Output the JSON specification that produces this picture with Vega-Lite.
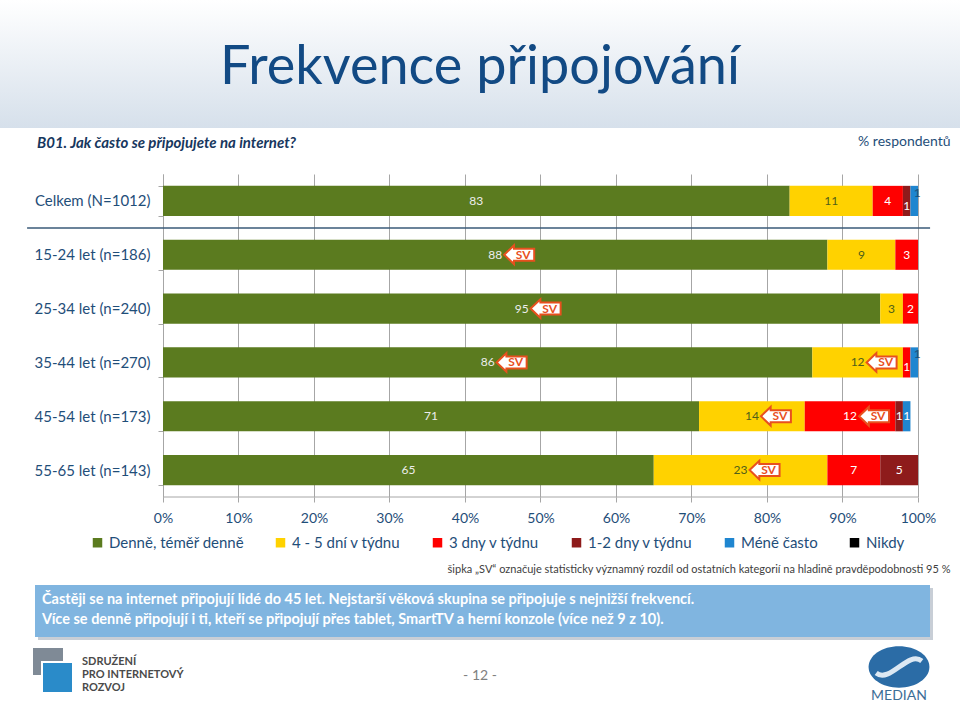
{
  "$schema": "https://vega.github.io/schema/vega-lite/v6.json",
  "background": "white",
  "padding": 0,
  "spacing": 6,
  "config": {"view": {"stroke": null}, "font": "Lato"},
  "vconcat": [
    {
      "width": 960,
      "height": 128,
      "data": {"values": [{"t": "Frekvence připojování"}]},
      "layer": [
        {
          "mark": {"type": "rect", "color": {"gradient": "linear", "x1": 0, "y1": 0, "x2": 0, "y2": 1, "stops": [{"offset": 0, "color": "#FFFFFF"}, {"offset": 1, "color": "#D6E0EB"}]}},
          "encoding": {"x": {"value": 0}, "x2": {"value": "width"}, "y": {"value": 0}, "y2": {"value": "height"}}
        },
        {
          "mark": {"type": "text", "fontSize": 54, "color": "#124A84", "dy": 4},
          "encoding": {"text": {"field": "t"}}
        }
      ]
    },
    {
      "width": 960,
      "height": 323,
      "title": {"text": "B01. Jak často se připojujete na internet?", "anchor": "start", "frame": "group", "dx": 37, "fontSize": 15, "fontStyle": "italic", "fontWeight": "bold", "color": "#17375E", "offset": -17},
      "layer": [
        {
          "data": {"values": [
            {"g": "Celkem (N=1012)", "c": "Denně, téměř denně", "o": 1, "v": 83},
            {"g": "Celkem (N=1012)", "c": "4 - 5 dní v týdnu", "o": 2, "v": 11},
            {"g": "Celkem (N=1012)", "c": "3 dny v týdnu", "o": 3, "v": 4},
            {"g": "Celkem (N=1012)", "c": "1-2 dny v týdnu", "o": 4, "v": 1, "lab": "lower"},
            {"g": "Celkem (N=1012)", "c": "Méně často", "o": 5, "v": 1, "lab": "upper"},
            {"g": "15-24 let (n=186)", "c": "Denně, téměř denně", "o": 1, "v": 88, "sv": true},
            {"g": "15-24 let (n=186)", "c": "4 - 5 dní v týdnu", "o": 2, "v": 9},
            {"g": "15-24 let (n=186)", "c": "3 dny v týdnu", "o": 3, "v": 3},
            {"g": "25-34 let (n=240)", "c": "Denně, téměř denně", "o": 1, "v": 95, "sv": true},
            {"g": "25-34 let (n=240)", "c": "4 - 5 dní v týdnu", "o": 2, "v": 3},
            {"g": "25-34 let (n=240)", "c": "3 dny v týdnu", "o": 3, "v": 2},
            {"g": "35-44 let (n=270)", "c": "Denně, téměř denně", "o": 1, "v": 86, "sv": true},
            {"g": "35-44 let (n=270)", "c": "4 - 5 dní v týdnu", "o": 2, "v": 12, "sv": true},
            {"g": "35-44 let (n=270)", "c": "3 dny v týdnu", "o": 3, "v": 1, "lab": "lower"},
            {"g": "35-44 let (n=270)", "c": "Méně často", "o": 5, "v": 1, "lab": "upper"},
            {"g": "45-54 let (n=173)", "c": "Denně, téměř denně", "o": 1, "v": 71},
            {"g": "45-54 let (n=173)", "c": "4 - 5 dní v týdnu", "o": 2, "v": 14, "sv": true},
            {"g": "45-54 let (n=173)", "c": "3 dny v týdnu", "o": 3, "v": 12, "sv": true},
            {"g": "45-54 let (n=173)", "c": "1-2 dny v týdnu", "o": 4, "v": 1},
            {"g": "45-54 let (n=173)", "c": "Méně často", "o": 5, "v": 1},
            {"g": "55-65 let (n=143)", "c": "Denně, téměř denně", "o": 1, "v": 65},
            {"g": "55-65 let (n=143)", "c": "4 - 5 dní v týdnu", "o": 2, "v": 23, "sv": true},
            {"g": "55-65 let (n=143)", "c": "3 dny v týdnu", "o": 3, "v": 7},
            {"g": "55-65 let (n=143)", "c": "1-2 dny v týdnu", "o": 4, "v": 5}
          ]},
          "transform": [
            {"stack": "v", "groupby": ["g"], "sort": [{"field": "o"}], "as": ["v0", "v1"]},
            {"calculate": "(datum.v0 + datum.v1) / 2", "as": "vm"}
          ],
          "encoding": {
            "y": {"field": "g", "type": "nominal", "sort": null, "title": null,
              "scale": {"paddingInner": 0.44, "paddingOuter": 0.22},
              "axis": {"offset": -163, "labelFontSize": 15, "labelColor": "#1F4E79", "labelPadding": 8, "tickBand": "extent", "tickSize": 5, "tickColor": "#A6A6A6", "domainColor": "#A6A6A6"}}
          },
          "layer": [
            {
              "mark": {"type": "bar"},
              "encoding": {
                "x": {"field": "v0", "type": "quantitative", "scale": {"domain": [-21.589, 105.563], "nice": false, "zero": false},
                  "axis": {"values": [0, 10, 20, 30, 40, 50, 60, 70, 80, 90, 100], "labelExpr": "datum.value + '%'", "grid": true, "gridColor": "#A6A6A6", "domain": false, "tickSize": 5, "tickColor": "#A6A6A6", "labelFontSize": 14, "labelColor": "#1F4E79", "labelPadding": 9,
                    "title": "šipka „SV“ označuje statisticky významný rozdíl od ostatních kategorií  na hladině pravděpodobnosti 95 %", "titleX": 950, "titleAlign": "right", "titleAnchor": null, "titlePadding": 38, "titleFontSize": 11, "titleFontWeight": "normal", "titleColor": "#404040"}},
                "x2": {"field": "v1"},
                "color": {"field": "c", "type": "nominal",
                  "scale": {"domain": ["Denně, téměř denně", "4 - 5 dní v týdnu", "3 dny v týdnu", "1-2 dny v týdnu", "Méně často", "Nikdy"],
                    "range": ["#5B7B1F", "#FFD200", "#FF0000", "#8E1B1B", "#1F86D0", "#000000"]},
                  "legend": {"orient": "none", "legendX": 90, "legendY": 535, "direction": "horizontal", "title": null, "symbolType": "square", "symbolSize": 90, "symbolStrokeWidth": 0, "labelFontSize": 15, "labelColor": "#1F4E79", "columnPadding": 29, "labelOffset": 4}}
              }
            },
            {
              "transform": [{"filter": "datum.lab == null"}],
              "mark": {"type": "text", "fontSize": 12},
              "encoding": {
                "x": {"field": "vm", "type": "quantitative"},
                "text": {"field": "v"},
                "color": {"condition": [{"test": "datum.o === 2", "value": "#4F5F1A"}, {"test": "datum.o === 1", "value": "#EDEDED"}], "value": "#FFFFFF"}
              }
            },
            {
              "transform": [{"filter": "datum.lab === 'upper'"}],
              "mark": {"type": "text", "fontSize": 12, "dy": -8, "dx": 3, "color": "#1F4E79"},
              "encoding": {
                "x": {"field": "vm", "type": "quantitative"},
                "text": {"field": "v"}
              }
            },
            {
              "transform": [{"filter": "datum.lab === 'lower'"}],
              "mark": {"type": "text", "fontSize": 12, "dy": 5, "color": "#FFFFFF"},
              "encoding": {
                "x": {"field": "vm", "type": "quantitative"},
                "text": {"field": "v"}
              }
            },
            {
              "transform": [{"filter": "datum.sv === true"}],
              "mark": {"type": "point", "shape": "M -1 0 L -0.35 -0.62 L -0.35 -0.4 L 1 -0.4 L 1 0.4 L -0.35 0.4 L -0.35 0.62 Z", "size": 900, "filled": true, "fill": "#FFFFFF", "stroke": "#E8501E", "strokeWidth": 2, "opacity": 1, "xOffset": 24},
              "encoding": {
                "x": {"field": "vm", "type": "quantitative"}
              }
            },
            {
              "transform": [{"filter": "datum.sv === true"}],
              "mark": {"type": "text", "text": "SV", "dx": 28, "fontSize": 12, "fontWeight": "bold", "color": "#E8501E"},
              "encoding": {
                "x": {"field": "vm", "type": "quantitative"}
              }
            }
          ]
        },
        {
          "data": {"values": [{"k": "sep"}]},
          "mark": {"type": "rule", "color": "#3A5A78", "strokeWidth": 1.5},
          "encoding": {
            "x": {"datum": -18, "type": "quantitative",
              "axis": {"orient": "top", "title": "% respondentů", "labels": false, "ticks": false, "domain": false, "grid": false, "titleX": 950, "titleAlign": "right", "titleAnchor": null, "titlePadding": 26, "titleFontSize": 14, "titleFontWeight": "normal", "titleColor": "#1F4E79"}},
            "x2": {"datum": 101.6},
            "y": {"datum": "Celkem (N=1012)", "type": "nominal", "bandPosition": 1.4}
          }
        },
        {
          "data": {"values": [{"k": "axis"}]},
          "mark": {"type": "rule", "color": "#A6A6A6", "strokeWidth": 1},
          "encoding": {
            "x": {"datum": 0, "type": "quantitative", "axis": null},
            "x2": {"datum": 100},
            "y": {"value": "height"}
          }
        }
      ],
      "resolve": {"axis": {"x": "independent"}}
    },
    {
      "width": 960,
      "height": 56,
      "data": {"values": [
        {"l": 1, "t": "Častěji se na internet připojují lidé do 45 let. Nejstarší věková skupina se připojuje s nejnižší frekvencí."},
        {"l": 2, "t": "Více se denně připojují i ti, kteří se připojují přes tablet, SmartTV a herní konzole (více než 9 z 10)."}
      ]},
      "layer": [
        {
          "transform": [{"filter": "datum.l === 1"}],
          "mark": {"type": "rect", "color": "#C8CED6"},
          "encoding": {
            "x": {"datum": 38, "type": "quantitative", "scale": {"domain": [0, 960], "nice": false, "zero": false}, "axis": null},
            "x2": {"datum": 933},
            "y": {"datum": 8, "type": "quantitative", "scale": {"domain": [0, 56], "reverse": true, "nice": false, "zero": false}, "axis": null},
            "y2": {"datum": 60}
          }
        },
        {
          "transform": [{"filter": "datum.l === 1"}],
          "mark": {"type": "rect", "color": "#80B5E0"},
          "encoding": {
            "x": {"datum": 35, "type": "quantitative"},
            "x2": {"datum": 930},
            "y": {"datum": 5, "type": "quantitative"},
            "y2": {"datum": 57}
          }
        },
        {
          "transform": [{"filter": "datum.l === 1"}],
          "mark": {"type": "text", "align": "left", "fontSize": 14.5, "fontWeight": "bold", "color": "#FFFFFF"},
          "encoding": {
            "x": {"datum": 42, "type": "quantitative"},
            "y": {"datum": 20, "type": "quantitative"},
            "text": {"field": "t"}
          }
        },
        {
          "transform": [{"filter": "datum.l === 2"}],
          "mark": {"type": "text", "align": "left", "fontSize": 14.5, "fontWeight": "bold", "color": "#FFFFFF"},
          "encoding": {
            "x": {"datum": 42, "type": "quantitative"},
            "y": {"datum": 40, "type": "quantitative"},
            "text": {"field": "t"}
          }
        }
      ]
    },
    {
      "width": 960,
      "height": 57,
      "data": {"values": [{"k": 1}]},
      "layer": [
        {
          "mark": {"type": "rect", "color": "#7F8A96"},
          "encoding": {
            "x": {"datum": 33, "type": "quantitative", "scale": {"domain": [0, 960], "nice": false, "zero": false}, "axis": null},
            "x2": {"datum": 63},
            "y": {"datum": -1, "type": "quantitative", "scale": {"domain": [0, 57], "reverse": true, "nice": false, "zero": false}, "axis": null},
            "y2": {"datum": 26}
          }
        },
        {
          "mark": {"type": "rect", "color": "#2A8BC9", "stroke": "#FFFFFF", "strokeWidth": 2},
          "encoding": {
            "x": {"datum": 42, "type": "quantitative"},
            "x2": {"datum": 73},
            "y": {"datum": 13, "type": "quantitative"},
            "y2": {"datum": 44}
          }
        },
        {
          "mark": {"type": "text", "text": "SDRUŽENÍ", "align": "left", "fontSize": 11, "fontWeight": "bold", "color": "#4A4A4A"},
          "encoding": {"x": {"datum": 82, "type": "quantitative"}, "y": {"datum": 13, "type": "quantitative"}}
        },
        {
          "mark": {"type": "text", "text": "PRO INTERNETOVÝ", "align": "left", "fontSize": 11, "fontWeight": "bold", "color": "#4A4A4A"},
          "encoding": {"x": {"datum": 82, "type": "quantitative"}, "y": {"datum": 26, "type": "quantitative"}}
        },
        {
          "mark": {"type": "text", "text": "ROZVOJ", "align": "left", "fontSize": 11, "fontWeight": "bold", "color": "#4A4A4A"},
          "encoding": {"x": {"datum": 82, "type": "quantitative"}, "y": {"datum": 39, "type": "quantitative"}}
        },
        {
          "mark": {"type": "text", "text": "- 12 -", "fontSize": 14, "color": "#808080"},
          "encoding": {"x": {"datum": 480, "type": "quantitative"}, "y": {"datum": 27, "type": "quantitative"}}
        },
        {
          "mark": {"type": "point", "shape": "M -1 0 A 1 0.68 0 1 0 1 0 A 1 0.68 0 1 0 -1 0 Z", "size": 3700, "filled": true, "color": "#2B6CA6", "opacity": 1},
          "encoding": {"x": {"datum": 899, "type": "quantitative"}, "y": {"datum": 18, "type": "quantitative"}}
        },
        {
          "mark": {"type": "point", "shape": "M -0.75 0.2 C -0.3 0.55 0.3 -0.55 0.75 -0.2", "size": 3700, "filled": false, "stroke": "#DCE8F3", "strokeWidth": 5, "opacity": 1},
          "encoding": {"x": {"datum": 899, "type": "quantitative"}, "y": {"datum": 18, "type": "quantitative"}}
        },
        {
          "mark": {"type": "text", "text": "MEDIAN", "fontSize": 14, "color": "#3D6E96"},
          "encoding": {"x": {"datum": 899, "type": "quantitative"}, "y": {"datum": 47, "type": "quantitative"}}
        }
      ]
    }
  ]
}
